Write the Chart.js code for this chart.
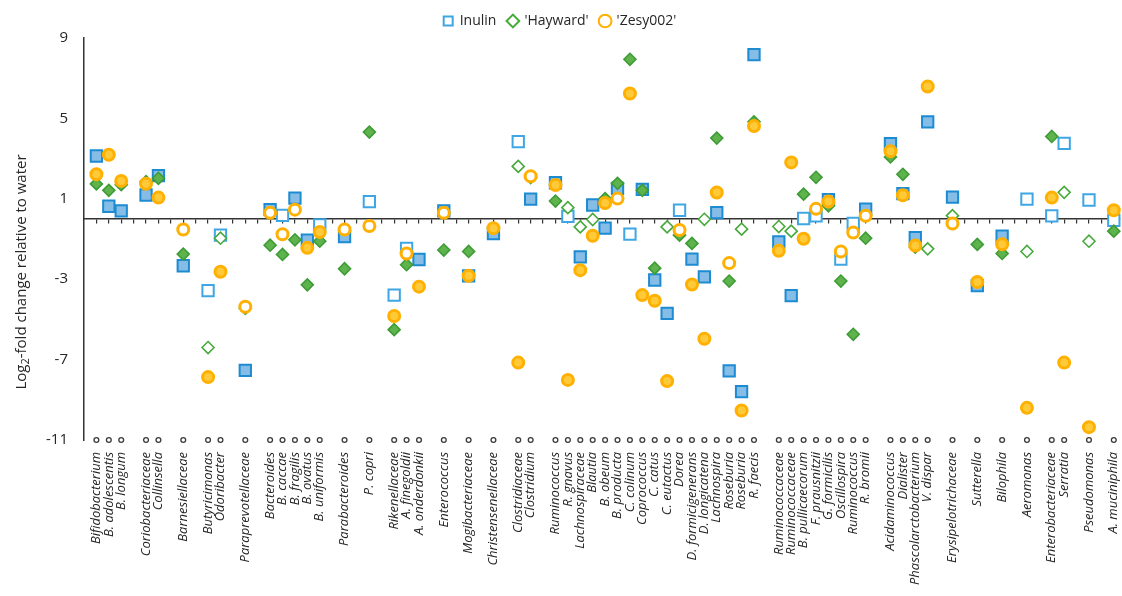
<!DOCTYPE html>
<html>
<head>
<meta charset="utf-8">
<script src="https://cdn.jsdelivr.net/npm/chart.js@4.4.0/dist/chart.umd.min.js"></script>
<style>
  html, body { margin: 0; padding: 0; background: #fff; }
</style>
</head>
<body>
<canvas id="lienzo" width="1122" height="596"></canvas>
<script>
// position of each taxon along the axis (empty slots are the gaps between groups)
const slots = [1, 2, 3, 5, 6, 8, 10, 11, 13, 15, 16, 17, 18, 19, 21, 23, 25, 26, 27, 29, 31, 33, 35, 36,
  38, 39, 40, 41, 42, 43, 44, 45, 46, 47, 48, 49, 50, 51, 52, 53, 54,
  56, 57, 58, 59, 60, 61, 62, 63, 65, 66, 67, 68, 70, 72, 74, 76, 78, 79, 81, 83]

const taxa = ['Bifidobacterium', 'B. adolescentis', 'B. longum', 'Coriobacteriaceae', 'Collinsella',
  'Barnesiellaceae', 'Butyricimonas', 'Odoribacter', 'Paraprevotellaceae',
  'Bacteroides', 'B. caccae', 'B. fragilis', 'B. ovatus', 'B. uniformis', 'Parabacteroides', 'P. copri',
  'Rikenellaceae', 'A. finegoldii', 'A. onderdonkii', 'Enterococcus', 'Mogibacteriaceae',
  'Christensenellaceae', 'Clostridiaceae', 'Clostridium',
  'Ruminococcus', 'R. gnavus', 'Lachnospiraceae', 'Blautia', 'B. obeum', 'B. producta', 'C. colinum',
  'Coprococcus', 'C. catus', 'C. eutactus', 'Dorea', 'D. formicigenerans', 'D. longicatena',
  'Lachnospira', 'Roseburia', 'Roseburia', 'R. faecis',
  'Ruminococcaceae', 'Ruminococcaceae', 'B. pullicaecorum', 'F. prausnitzii', 'G. formicilis',
  'Oscillospira', 'Ruminococcus', 'R. bromii', 'Acidaminococcus', 'Dialister',
  'Phascolarctobacterium', 'V. dispar', 'Erysipelotrichaceae', 'Sutterella', 'Bilophila',
  'Aeromonas', 'Enterobacteriaceae', 'Serratia', 'Pseudomonas', 'A. muciniphila']

const inulin = [3.13, 0.63, 0.40, 1.19, 2.15, -2.33, -3.57, -0.81, -7.54, 0.46, 0.18, 1.03, -1.06, -0.30,
  -0.88, 0.86, -3.79, -1.47, -2.02, 0.40, -2.83, -0.73, 3.84, 0.98,
  1.80, 0.13, -1.89, 0.69, -0.46, 1.52, -0.76, 1.47, -3.04, -4.70, 0.43, -2.00, -2.88, 0.31, -7.56, -8.59, 8.17,
  -1.14, -3.82, 0.02, 0.15, 0.96, -2.00, -0.23, 0.48, 3.74, 1.26, -0.93, 4.83, 1.08, -3.32, -0.86,
  0.98, 0.15, 3.76, 0.94, -0.07]
const inulinSig = [1, 1, 1, 1, 1, 1, 0, 0, 1, 1, 0, 1, 1, 0, 1, 0, 0, 0, 1, 1, 1, 1, 0, 1,
  1, 0, 1, 1, 1, 1, 0, 1, 1, 1, 0, 1, 1, 1, 1, 1, 1,
  1, 1, 0, 0, 1, 0, 0, 1, 1, 1, 1, 1, 1, 1, 1, 0, 0, 0, 0, 0]

const hayward = [1.74, 1.42, 1.70, 1.85, 2.02, -1.75, -6.40, -0.96, -4.45, -1.31, -1.77, -1.04, -3.28, -1.11,
  -2.48, 4.32, -5.51, -2.28, null, -1.55, -1.62, null, 2.61, 2.05,
  0.89, 0.56, -0.40, -0.03, 1.01, 1.77, 7.94, 1.42, -2.45, -0.40, -0.81, -1.22, -0.02, 4.02, -3.09, -0.51, 4.83,
  -0.38, -0.61, 1.23, 2.07, 0.65, -3.09, -5.74, -0.96, 3.08, 2.22, -1.40, -1.49, 0.16, -1.27, -1.72,
  -1.62, 4.10, 1.32, -1.11, -0.61]
const haywardSig = [1, 1, 1, 1, 1, 1, 0, 0, 0, 1, 1, 1, 1, 1, 1, 1, 1, 1, 1, 1, 1, 1, 0, 0,
  1, 0, 0, 0, 1, 1, 1, 1, 1, 0, 1, 1, 0, 1, 1, 0, 1,
  0, 0, 1, 1, 1, 1, 1, 1, 1, 1, 1, 0, 0, 1, 1, 0, 1, 0, 0, 1]

const zesy = [2.22, 3.19, 1.89, 1.75, 1.06, -0.53, -7.87, -2.63, -4.37, 0.30, -0.76, 0.46, -1.44, -0.65,
  -0.53, -0.35, -4.83, -1.72, -3.37, 0.30, -2.83, -0.46, -7.15, 2.12,
  1.69, -8.01, -2.55, -0.84, 0.79, 1.01, 6.24, -3.79, -4.07, -8.07, -0.55, -3.26, -5.96, 1.31, -2.20, -9.53, 4.62,
  -1.59, 2.81, -0.99, 0.50, 0.86, -1.62, -0.68, 0.16, 3.37, 1.18, -1.32, 6.59, -0.23, -3.14, -1.26,
  -9.40, 1.06, -7.15, -10.36, 0.43]
const zesySig = [1, 1, 1, 1, 1, 0, 1, 1, 0, 0, 0, 0, 1, 1, 0, 0, 1, 0, 1, 0, 1, 1, 1, 0,
  1, 1, 1, 1, 1, 0, 1, 1, 1, 1, 0, 1, 1, 1, 0, 1, 1,
  1, 1, 1, 0, 1, 0, 0, 0, 1, 1, 1, 1, 0, 1, 1, 1, 1, 1, 1, 1]

const yTicks = [-11, -7, -3, 1, 5, 9]

const blue = { line: '#1c8bd2', fill: '#86bde6', hollow: '#3ea6e4' }
const green = { line: '#3d9c35', fill: '#5fb34c', hollow: '#47a93c' }
const orange = { line: '#ffb000', fill: '#ffca3a', hollow: '#ffb000' }
const legendColors = [blue.hollow, green.hollow, orange.hollow]
const ink = '#262626'

function serie(label, vals, sig, style, col, order, radius, bw) {
  return {
    label: label,
    order: order,
    data: slots.map((x, i) => ({ x: x, y: vals[i] })),
    pointStyle: style,
    pointRadius: radius,
    pointHoverRadius: radius,
    pointBorderWidth: bw,
    pointBackgroundColor: ctx => sig[ctx.dataIndex] ? col.fill : '#ffffff',
    pointBorderColor: ctx => sig[ctx.dataIndex] ? col.line : col.hollow,
    borderColor: col.hollow,
    backgroundColor: '#ffffff',
    showLine: false,
    clip: false
  }
}

const marcas = {
  label: 'marcas',
  order: 4,
  data: slots.map(x => ({ x: x, y: -11 })),
  pointStyle: 'circle',
  pointRadius: 2.4,
  pointBorderWidth: 1.3,
  pointBorderColor: '#3a3a3a',
  pointBackgroundColor: '#ffffff',
  showLine: false,
  clip: false
}

// y title with a real subscript 2, a bit below the middle like the original
const tituloY = {
  id: 'tituloY',
  afterDraw(chart) {
    const { ctx, chartArea } = chart
    const big = '15px "Open Sans"', small = '11px "Open Sans"'
    const a = 'Log', b = '2', c = '-fold change relative to water'
    ctx.save()
    ctx.font = big
    const wa = ctx.measureText(a).width, wc = ctx.measureText(c).width
    ctx.font = small
    const wb = ctx.measureText(b).width
    const total = wa + wb + wc
    ctx.translate(22, (chartArea.top + chartArea.bottom) / 2 + 33)
    ctx.rotate(-Math.PI / 2)
    ctx.fillStyle = ink
    ctx.textBaseline = 'middle'
    ctx.textAlign = 'left'
    let x = -total / 2
    ctx.font = big
    ctx.fillText(a, x, 0)
    x += wa
    ctx.font = small
    ctx.fillText(b, x, 4)
    x += wb
    ctx.font = big
    ctx.fillText(c, x, 0)
    ctx.restore()
  }
}

new Chart(document.getElementById('lienzo'), {
  type: 'scatter',
  data: {
    datasets: [
      serie('Inulin', inulin, inulinSig, 'rect', blue, 3, 8, 2),
      serie("'Hayward'", hayward, haywardSig, 'rectRot', green, 2, 6, 1.6),
      serie("'Zesy002'", zesy, zesySig, 'circle', orange, 1, 5.5, 3),
      marcas
    ]
  },
  plugins: [tituloY],
  options: {
    responsive: false,
    animation: false,
    layout: { autoPadding: false, padding: { top: 2, right: 2, left: 0, bottom: 0 } },
    plugins: {
      tooltip: { enabled: false },
      legend: {
        position: 'top',
        labels: {
          usePointStyle: true,
          boxWidth: 9,
          boxHeight: 9,
          padding: 12,
          color: ink,
          font: { family: 'Open Sans', size: 14 },
          generateLabels: chart => {
            const base = Chart.defaults.plugins.legend.labels.generateLabels(chart)
            return base.filter(it => it.datasetIndex < 3)
              .sort((a, b) => a.datasetIndex - b.datasetIndex)
              .map(it => {
                it.fillStyle = '#ffffff'
                it.strokeStyle = legendColors[it.datasetIndex]
                it.lineWidth = 2
                return it
              })
          }
        }
      }
    },
    scales: {
      x: {
        type: 'linear',
        position: 'bottom',
        min: 0,
        max: 83.5,
        border: { display: false },
        grid: { display: false, drawTicks: false },
        afterBuildTicks: s => { s.ticks = slots.map(v => ({ value: v })) },
        afterFit: s => {
          s.height = 156
          s.paddingLeft = 0
          s.paddingRight = 0
        },
        ticks: {
          autoSkip: false,
          minRotation: 90,
          maxRotation: 90,
          padding: 12,
          color: ink,
          font: { family: 'Open Sans', size: 13, style: 'italic' },
          callback: (v, i) => taxa[i]
        }
      },
      x2: {
        type: 'linear',
        position: { y: 0 },
        min: 0,
        max: 83.5,
        afterBuildTicks: s => {
          const t = []
          for (let i = 1; i <= 83; i++) t.push({ value: i })
          s.ticks = t
        },
        afterFit: s => {
          s.paddingLeft = 0
          s.paddingRight = 0
        },
        ticks: { display: false },
        grid: { display: true, drawOnChartArea: false, drawTicks: true, tickLength: 4, color: '#333333', lineWidth: 1.2 },
        border: { display: true, color: '#333333', width: 1.5 }
      },
      y: {
        min: -11,
        max: 9,
        afterBuildTicks: s => { s.ticks = yTicks.map(v => ({ value: v })) },
        afterFit: s => { s.width = 84 },
        grid: { display: false, drawTicks: false },
        border: { display: true, color: '#333333', width: 1.5 },
        ticks: {
          padding: 16,
          color: ink,
          font: { family: 'Open Sans', size: 15 }
        }
      }
    }
  }
})
</script>
</body>
</html>
